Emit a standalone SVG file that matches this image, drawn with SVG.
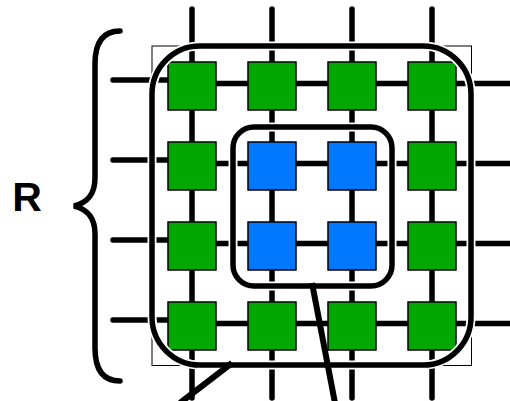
<svg xmlns="http://www.w3.org/2000/svg" width="510" height="401" viewBox="0 0 510 401">
<style>
.ln{stroke:#000;stroke-width:5.5;stroke-linecap:round;fill:none}
.halo{stroke:#fff;stroke-width:9;fill:none}
.frame{stroke:#000;stroke-width:5.5;fill:none}
.g{fill:#00a800;stroke:#000;stroke-width:1.5}
.b{fill:#0078ff;stroke:#000;stroke-width:1.5}
</style>
<rect width="510" height="401" fill="#fff"/>
<g id="connectors">
<path class="ln" d="M192,9V398M272,9V398M352,9V398M432,9V398"/>
<path class="ln" d="M113,80H168M113,160H168M113,240H168M113,320H168"/>
<path d="M168,83.5H512M168,163.5H512M168,243.5H512M168,323.5H512" stroke="#000" stroke-width="5.5" fill="none"/>
</g>
<rect id="bbox" x="152" y="46" width="319.5" height="319.5" fill="none" stroke="#000" stroke-width="1"/>
<g id="nodes">
<rect id="n11" class="g" x="168" y="62" width="48" height="48"/>
<rect id="n12" class="g" x="248" y="62" width="48" height="48"/>
<rect id="n13" class="g" x="328" y="62" width="48" height="48"/>
<rect id="n14" class="g" x="408" y="62" width="48" height="48"/>
<rect id="n21" class="g" x="168" y="142" width="48" height="48"/>
<rect id="n22" class="b" x="248" y="142" width="48" height="48"/>
<rect id="n23" class="b" x="328" y="142" width="48" height="48"/>
<rect id="n24" class="g" x="408" y="142" width="48" height="48"/>
<rect id="n31" class="g" x="168" y="222" width="48" height="48"/>
<rect id="n32" class="b" x="248" y="222" width="48" height="48"/>
<rect id="n33" class="b" x="328" y="222" width="48" height="48"/>
<rect id="n34" class="g" x="408" y="222" width="48" height="48"/>
<rect id="n41" class="g" x="168" y="302" width="48" height="48"/>
<rect id="n42" class="g" x="248" y="302" width="48" height="48"/>
<rect id="n43" class="g" x="328" y="302" width="48" height="48"/>
<rect id="n44" class="g" x="408" y="302" width="48" height="48"/>
</g>
<g id="outer-region">
<rect class="halo" x="152" y="46" width="319" height="319" rx="48"/>
<rect class="frame" x="152" y="46" width="319" height="319" rx="48"/>
</g>
<g id="inner-region">
<rect class="halo" x="233" y="127" width="159" height="159" rx="21"/>
<rect class="frame" x="233" y="127" width="159" height="159" rx="21"/>
</g>
<g id="pointers">
<path d="M232,363L180,403" stroke="#000" stroke-width="6" fill="none"/>
<path d="M312,283L335,403" stroke="#000" stroke-width="6" fill="none"/>
</g>
<g id="brace">
<path class="ln" stroke-width="7.5" d="M120,31C102,31 95,44 95,64V178C95,196 86,203 74,206C86,209 95,216 95,234V348C95,368 102,381 120,381"/>
<text x="27" y="211" font-family="Liberation Sans, Arial, sans-serif" font-weight="bold" font-size="41" text-anchor="middle">R</text>
</g>
</svg>
